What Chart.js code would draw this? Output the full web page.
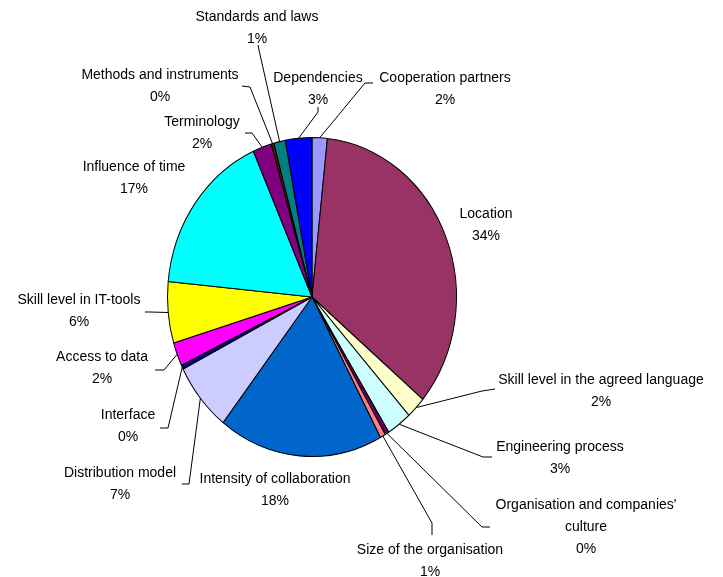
<!DOCTYPE html>
<html><head><meta charset="utf-8">
<script src="https://cdn.jsdelivr.net/npm/chart.js@4.4.1/dist/chart.umd.min.js"></script>
<style>html,body{margin:0;padding:0;background:#fff;}canvas{display:block;}</style>
</head><body>
<canvas id="c" width="723" height="577"></canvas>
<script>
const categories = [
  "Cooperation partners", "Location", "Skill level in the agreed language", "Engineering process",
  "Organisation and companies' culture", "Size of the organisation", "Intensity of collaboration",
  "Distribution model", "Interface", "Access to data", "Skill level in IT-tools", "Influence of time",
  "Terminology", "Methods and instruments", "Standards and laws", "Dependencies"
];
const values = [1.7, 34.4, 2.2, 2.8, 0.45, 0.6, 18.4, 7.0, 0.4, 2.4, 6.2, 16.8, 2.1, 0.3, 1.3, 2.95];
const colors = ["#9999FF", "#993366", "#FFFFCC", "#CCFFFF", "#660066", "#FF8080", "#0066CC", "#CCCCFF",
  "#000080", "#FF00FF", "#FFFF00", "#00FFFF", "#800080", "#800000", "#008080", "#0000FF"];

// label placement (layout only): text centre, first line y, leader elbow points
const labelLayout = [
  {x:445, y:78,  pts:[[373,83],[365,83]]},
  {x:486, y:214},
  {x:601, y:380, pts:[[495,389],[482,391]]},
  {x:560, y:447, pts:[[492,457],[483,457]]},
  {x:586, y:505, br:3, pts:[[490,527],[482,527]]},
  {x:430, y:550, pts:[[432,535],[432,523]]},
  {x:275, y:479},
  {x:120, y:473, pts:[[182,484],[189,484]]},
  {x:128, y:415, pts:[[160,428],[168,428]]},
  {x:102, y:357, pts:[[155,370],[164,370]]},
  {x:79,  y:300, pts:[[145,312],[150,312]]},
  {x:134, y:167},
  {x:202, y:122, pts:[[245,133],[252,133]]},
  {x:160, y:75,  pts:[[242,86],[250,87]]},
  {x:257, y:17,  pts:[[258,45],[259,50]]},
  {x:318, y:78,  pts:[[318,107],[318,112]]}
];
const Y_STRETCH = 160/145;
const LINE_H = 22;
const FONT = '14px "Liberation Sans", Arial, sans-serif';

const ellipsePlugin = {
  id: 'ellipse',
  beforeDatasetsDraw(chart) {
    const a = chart.getDatasetMeta(0).data[0];
    const ctx = chart.ctx;
    ctx.save();
    ctx.translate(a.x, a.y);
    ctx.scale(1, Y_STRETCH);
    ctx.translate(-a.x, -a.y);
  },
  afterDatasetsDraw(chart) {
    chart.ctx.restore();
  }
};

const labelPlugin = {
  id: 'outLabels',
  afterDraw(chart) {
    const ctx = chart.ctx;
    const meta = chart.getDatasetMeta(0);
    const total = values.reduce((s, v) => s + v, 0);
    ctx.save();
    ctx.font = FONT;
    ctx.fillStyle = '#000';
    ctx.strokeStyle = '#000';
    ctx.lineWidth = 1;
    ctx.textAlign = 'center';
    ctx.textBaseline = 'middle';
    meta.data.forEach((arc, i) => {
      const L = labelLayout[i];
      const pct = Math.round(values[i] / total * 100) + '%';
      let lines;
      if (L.br) {
        const w = categories[i].split(' ');
        lines = [w.slice(0, L.br).join(' '), w.slice(L.br).join(' '), pct];
      } else {
        lines = [categories[i], pct];
      }
      lines.forEach((t, j) => ctx.fillText(t, L.x, L.y + j * LINE_H));
      if (L.pts) {
        const mid = (arc.startAngle + arc.endAngle) / 2;
        const ex = arc.x + arc.outerRadius * Math.cos(mid);
        const ey = arc.y + arc.outerRadius * Y_STRETCH * Math.sin(mid);
        ctx.beginPath();
        ctx.moveTo(L.pts[0][0], L.pts[0][1]);
        for (let k = 1; k < L.pts.length; k++) ctx.lineTo(L.pts[k][0], L.pts[k][1]);
        ctx.lineTo(ex, ey);
        ctx.stroke();
      }
    });
    ctx.restore();
  }
};

new Chart(document.getElementById('c'), {
  type: 'pie',
  data: {
    labels: categories,
    datasets: [{
      data: values,
      backgroundColor: colors,
      borderColor: '#000',
      borderWidth: 1
    }]
  },
  options: {
    responsive: false,
    devicePixelRatio: 1,
    animation: false,
    layout: { padding: { left: 167, right: 266, top: 152, bottom: 135 } },
    plugins: { legend: { display: false }, tooltip: { enabled: false } }
  },
  plugins: [ellipsePlugin, labelPlugin]
});
</script>
</body></html>
